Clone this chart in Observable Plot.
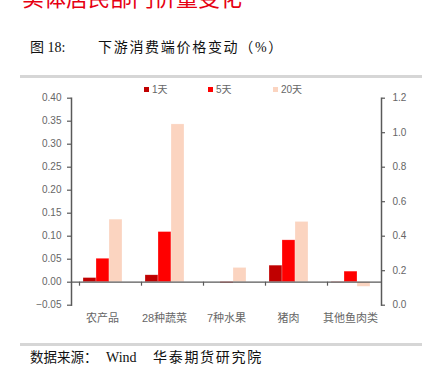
<!DOCTYPE html>
<html><head><meta charset="utf-8">
<script src="https://cdn.jsdelivr.net/npm/d3@7"></script>
<script src="https://cdn.jsdelivr.net/npm/@observablehq/plot@0.6"></script>
<style>
body{margin:0;width:428px;height:368px;position:relative;overflow:hidden;background:#fff;}
.abs{position:absolute;white-space:nowrap;}
.cjk{font-family:"Liberation Serif","Noto Sans CJK SC",serif;color:#111;}
.sep{position:absolute;left:20px;width:402px;height:3px;background:#d6d6d6;}
#legend span.item{position:absolute;top:0;font:10px "Liberation Sans","Noto Sans CJK SC",sans-serif;color:#666;line-height:12px;}
#legend span.sw{display:inline-block;width:5px;height:5px;margin-right:3px;vertical-align:1px;}
</style></head><body>
<div class="abs" style="left:22px;top:-15px;font:22px/22px 'Noto Sans CJK SC',sans-serif;color:#e60012;">实体居民部门价量变化</div>
<div class="abs cjk" style="left:30px;top:38px;font-size:14px;line-height:20px;">图 18:</div>
<div class="abs cjk" style="left:98px;top:38px;font-size:14px;line-height:20px;letter-spacing:1.7px;">下游消费端价格变动（%）</div>
<div class="sep" style="top:75px;"></div>
<div id="chart" class="abs" style="left:0;top:80px;"></div>
<div id="legend" class="abs" style="left:0;top:84px;width:428px;height:14px;"></div>
<div class="sep" style="top:343px;"></div>
<div class="abs cjk" style="left:30px;top:348px;font-size:13.5px;line-height:20px;">数据来源：</div>
<div class="abs cjk" style="left:106px;top:348px;font-size:14px;line-height:20px;">Wind</div>
<div class="abs cjk" style="left:153px;top:348px;font-size:14px;line-height:20px;letter-spacing:1.7px;">华泰期货研究院</div>
<script>
const categories = ["农产品", "28种蔬菜", "7种水果", "猪肉", "其他鱼肉类"];
const seriesNames = ["1天", "5天", "20天"];
const values1d = [0.009, 0.015, 0.000, 0.036, -0.001];
const values5d = [0.051, 0.109, -0.002, 0.091, 0.023];
const values20d = [0.136, 0.343, 0.031, 0.131, -0.010];
const seriesColors = ["#c00000", "#ff0000", "#fbd4c0"];
const leftTicks = [-0.05, 0, 0.05, 0.10, 0.15, 0.20, 0.25, 0.30, 0.35, 0.40];
const rightTicks = [0, 0.2, 0.4, 0.6, 0.8, 1.0, 1.2];
const leftDomain = [-0.05, 0.40];
const rightDomain = [0, 1.2];

const seriesValues = [values1d, values5d, values20d];
const rows = [];
categories.forEach((c, i) => seriesNames.forEach((s, j) => rows.push({category: c, series: s, value: seriesValues[j][i]})));

// map right-axis values into left-axis units
const k = (leftDomain[1] - leftDomain[0]) / (rightDomain[1] - rightDomain[0]);
const toLeft = r => leftDomain[0] + (r - rightDomain[0]) * k;
const toRight = l => rightDomain[0] + (l - leftDomain[0]) / k;

const axisColor = "#595959";
const chart = Plot.plot({
  width: 428,
  height: 260,
  marginLeft: 70,
  marginRight: 47,
  marginTop: 17.7,
  marginBottom: 35.3,
  style: {fontFamily: "'Liberation Sans','Noto Sans CJK SC',sans-serif", fontSize: "10px", color: "#666", background: "transparent"},
  fx: {domain: categories, padding: 0, label: null},
  x: {domain: seriesNames, paddingInner: 0, paddingOuter: 0.77, axis: null},
  y: {domain: leftDomain},
  color: {domain: seriesNames, range: seriesColors},
  marks: [
    Plot.barY(rows, {fx: "category", x: "series", y: "value", fill: "series", stroke: "#fff", strokeWidth: 0.5, strokeOpacity: 0.5}),
    Plot.ruleY([0], {stroke: axisColor, strokeWidth: 1.3}),
    Plot.ruleX(["1天"], {y1: 0, y2: 0, insetBottom: -4, dx: -10.5, stroke: axisColor, strokeWidth: 1.2}),
    Plot.frame({anchor: "left", facetAnchor: "left", stroke: axisColor, strokeWidth: 1.5}),
    Plot.frame({anchor: "right", facetAnchor: "right", stroke: axisColor, strokeWidth: 1.5}),
    Plot.axisY(leftTicks, {anchor: "left", tickSize: 4, tickPadding: 6, tickFormat: d3.format(".2f"), stroke: axisColor, strokeWidth: 1.2, label: null}),
    Plot.axisY(rightTicks.map(toLeft), {anchor: "right", tickSize: 3, tickPadding: 8, tickFormat: d => toRight(d).toFixed(1), stroke: axisColor, strokeWidth: 1.2, label: null}),
    Plot.axisFx({anchor: "bottom", tickSize: 0, tickPadding: 9, fontSize: 11, label: null})
  ]
});
document.getElementById("chart").appendChild(chart);

// legend
const legendX = [144, 208, 273];
const legend = document.getElementById("legend");
seriesNames.forEach((s, i) => {
  const item = document.createElement("span");
  item.className = "item";
  item.style.left = legendX[i] + "px";
  const sw = document.createElement("span");
  sw.className = "sw";
  sw.style.background = seriesColors[i];
  item.appendChild(sw);
  item.appendChild(document.createTextNode(s));
  legend.appendChild(item);
});
</script>
</body></html>
